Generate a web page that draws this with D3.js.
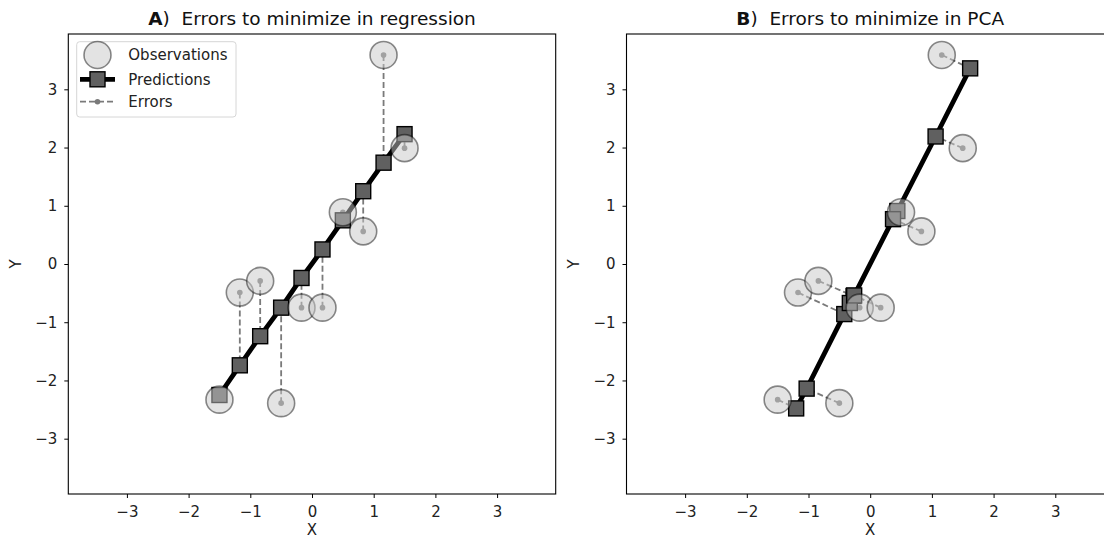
<!DOCTYPE html>
<html>
<head>
<meta charset="utf-8">
<script src="https://cdn.jsdelivr.net/npm/d3@7"></script>
<style>
    body { margin: 0; background: #fff; }
    text { font-family: "DejaVu Sans", sans-serif; }
</style>
</head>
<body>
<div id="chart"></div>
<script>
// Observations (same in both panels)
var obsX = [-1.5, -1.17, -0.84, -0.5, -0.17, 0.17, 0.5, 0.83, 1.16, 1.5];
var obsY = [-2.33, -0.49, -0.29, -2.39, -0.75, -0.75, 0.89, 0.56, 3.59, 1.99];

// Panel A: regression predictions (same x as observations)
var regPredY = [-2.25, -1.74, -1.24, -0.75, -0.24, 0.25, 0.75, 1.25, 1.74, 2.23];

// Panel B: PCA projections
var pcaPredX = [-1.2, -0.42, -0.27, -1.03, -0.33, -0.26, 0.44, 0.37, 1.62, 1.06];
var pcaPredY = [-2.48, -0.86, -0.55, -2.14, -0.67, -0.54, 0.91, 0.77, 3.36, 2.19];

var tickValues = [-3, -2, -1, 0, 1, 2, 3];
var axisLimits = [-3.95, 3.95];
var legendLabels = ["Observations", "Predictions", "Errors"];

var w = 1104;
var h = 539;

var svg = d3.select("#chart")
    .append("svg")
    .attr("width", w)
    .attr("height", h);

var plotTop = 34, plotBottom = 494, plotW = 487.4;
var fs = "15px";
var sq = 15, obsR = 13.5;

var panels = [
    { left: 68.3, letter: "A", title: ")  Errors to minimize in regression", px: obsX, py: regPredY, legend: true },
    { left: 626.5, letter: "B", title: ")  Errors to minimize in PCA", px: pcaPredX, py: pcaPredY, legend: false }
];

panels.forEach(function (p) {
    var xScale = d3.scaleLinear().domain(axisLimits).range([p.left, p.left + plotW]);
    var yScale = d3.scaleLinear().domain(axisLimits).range([plotBottom, plotTop]);
    var g = svg.append("g");

    // errors: dashed lines from each observation to its prediction
    var idx = d3.range(obsX.length);
    g.append("g").selectAll("line")
        .data(idx).enter().append("line")
        .attr("x1", function (i) { return xScale(obsX[i]); })
        .attr("y1", function (i) { return yScale(obsY[i]); })
        .attr("x2", function (i) { return xScale(p.px[i]); })
        .attr("y2", function (i) { return yScale(p.py[i]); })
        .style("stroke", "#7a7a7a")
        .style("stroke-width", "1.8px")
        .style("stroke-dasharray", "6,3");

    var ends = [];
    idx.forEach(function (i) {
        ends.push([obsX[i], obsY[i]]);
        ends.push([p.px[i], p.py[i]]);
    });
    g.append("g").selectAll("circle")
        .data(ends).enter().append("circle")
        .attr("cx", function (d) { return xScale(d[0]); })
        .attr("cy", function (d) { return yScale(d[1]); })
        .attr("r", 2.8)
        .style("fill", "#7a7a7a");

    // predictions: thick line + squares
    var sorted = idx.slice().sort(function (a, b) { return p.px[a] - p.px[b]; });
    var line = d3.line()
        .x(function (i) { return xScale(p.px[i]); })
        .y(function (i) { return yScale(p.py[i]); });
    g.append("path")
        .datum(sorted)
        .attr("d", line)
        .style("fill", "none")
        .style("stroke", "#000")
        .style("stroke-width", "4.8px");

    g.append("g").selectAll("rect")
        .data(idx).enter().append("rect")
        .attr("x", function (i) { return xScale(p.px[i]) - sq / 2; })
        .attr("y", function (i) { return yScale(p.py[i]) - sq / 2; })
        .attr("width", sq)
        .attr("height", sq)
        .style("fill", "#606060")
        .style("stroke", "#000")
        .style("stroke-width", "1.4px");

    // observations on top, half transparent
    g.append("g").selectAll("circle")
        .data(idx).enter().append("circle")
        .attr("cx", function (i) { return xScale(obsX[i]); })
        .attr("cy", function (i) { return yScale(obsY[i]); })
        .attr("r", obsR)
        .style("fill", "#c8c8c8")
        .style("fill-opacity", 0.5)
        .style("stroke", "#000")
        .style("stroke-opacity", 0.45)
        .style("stroke-width", "1.6px");

    // axes
    var xAxis = g.append("g")
        .attr("transform", "translate(0," + plotBottom + ")")
        .call(d3.axisBottom(xScale).tickValues(tickValues).tickSize(4).tickPadding(8));
    var yAxis = g.append("g")
        .attr("transform", "translate(" + p.left + ",0)")
        .call(d3.axisLeft(yScale).tickValues(tickValues).tickSize(4).tickPadding(7));
    [xAxis, yAxis].forEach(function (a) {
        a.select(".domain").remove();
        a.attr("font-family", null).attr("font-size", null);
        a.selectAll("text").style("fill", "#222").style("font-size", fs);
    });

    g.append("rect")
        .attr("x", p.left)
        .attr("y", plotTop)
        .attr("width", plotW)
        .attr("height", plotBottom - plotTop)
        .style("fill", "none")
        .style("stroke", "#000")
        .style("stroke-width", "1.1px");

    // axis labels
    g.append("text")
        .attr("x", p.left + plotW / 2)
        .attr("y", 530)
        .attr("dy", "0.35em")
        .attr("text-anchor", "middle")
        .style("font-size", fs)
        .style("fill", "#222")
        .text("X");

    g.append("text")
        .attr("transform", "translate(" + (p.left - 53) + "," + ((plotTop + plotBottom) / 2) + ") rotate(-90)")
        .attr("dy", "0.35em")
        .attr("text-anchor", "middle")
        .style("font-size", fs)
        .style("fill", "#222")
        .text("Y");

    // title with bold letter
    var t = g.append("text")
        .attr("x", p.left + plotW / 2)
        .attr("y", 25)
        .attr("text-anchor", "middle")
        .style("font-size", "18.5px")
        .style("white-space", "pre")
        .style("fill", "#111");
    t.append("tspan").style("font-weight", "bold").text(p.letter);
    t.append("tspan").text(p.title);

    if (p.legend) {
        var lg = g.append("g");
        lg.append("rect")
            .attr("x", 76.7).attr("y", 41.7)
            .attr("width", 159.3).attr("height", 75.3)
            .attr("rx", 3)
            .style("fill", "#fff")
            .style("fill-opacity", 0.8)
            .style("stroke", "#d6d6d6")
            .style("stroke-width", "1px");

        var rowY = [55, 79.3, 101.7];
        var hx0 = 80, hx1 = 115, hxm = 97.5;

        lg.append("circle")
            .attr("cx", hxm).attr("cy", rowY[0]).attr("r", obsR)
            .style("fill", "#c8c8c8").style("fill-opacity", 0.5)
            .style("stroke", "#000").style("stroke-opacity", 0.45).style("stroke-width", "1.6px");

        lg.append("line")
            .attr("x1", hx0).attr("x2", hx1).attr("y1", rowY[1]).attr("y2", rowY[1])
            .style("stroke", "#000").style("stroke-width", "4.8px");
        lg.append("rect")
            .attr("x", hxm - sq / 2).attr("y", rowY[1] - sq / 2).attr("width", sq).attr("height", sq)
            .style("fill", "#606060").style("stroke", "#000").style("stroke-width", "1.4px");

        lg.append("line")
            .attr("x1", hx0).attr("x2", hx1).attr("y1", rowY[2]).attr("y2", rowY[2])
            .style("stroke", "#7a7a7a").style("stroke-width", "1.8px").style("stroke-dasharray", "6,3");
        lg.append("circle")
            .attr("cx", hxm).attr("cy", rowY[2]).attr("r", 2.8)
            .style("fill", "#7a7a7a");

        lg.selectAll("text.lab")
            .data(legendLabels).enter().append("text")
            .attr("class", "lab")
            .attr("x", 128.3)
            .attr("y", function (d, i) { return rowY[i]; })
            .attr("dy", "0.36em")
            .style("font-size", fs)
            .style("fill", "#222")
            .text(function (d) { return d; });
    }
});
</script>
</body>
</html>
